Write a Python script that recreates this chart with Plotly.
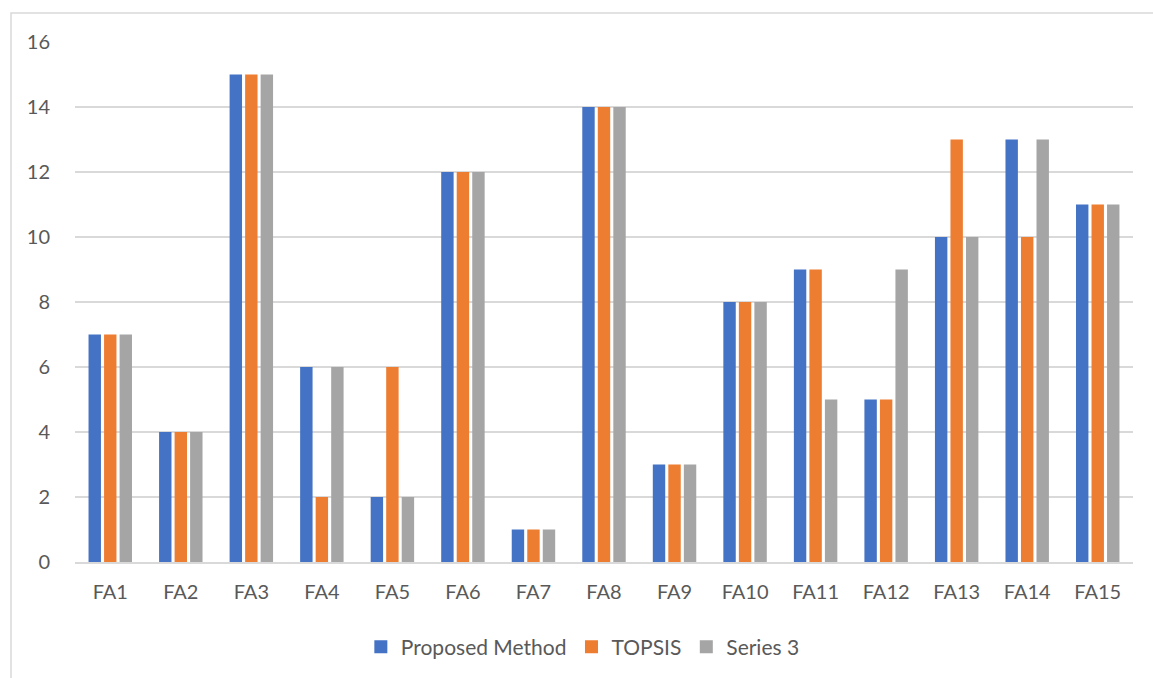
import plotly.graph_objects as go

categories = ["FA1", "FA2", "FA3", "FA4", "FA5", "FA6", "FA7", "FA8", "FA9", "FA10",
              "FA11", "FA12", "FA13", "FA14", "FA15"]
proposed = [7, 4, 15, 6, 2, 12, 1, 14, 3, 8, 9, 5, 10, 13, 11]
topsis = [7, 4, 15, 2, 6, 12, 1, 14, 3, 8, 9, 5, 13, 10, 11]
series3 = [7, 4, 15, 6, 2, 12, 1, 14, 3, 8, 5, 9, 10, 13, 11]
y_ticks = [0, 2, 4, 6, 8, 10, 12, 14, 16]

series = [
    ("Proposed Method", proposed, "#4472C4"),
    ("TOPSIS", topsis, "#ED7D31"),
    ("Series 3", series3, "#A5A5A5"),
]

fig = go.Figure()
for name, vals, color in series:
    fig.add_trace(go.Bar(
        x=categories, y=vals, name=name, legendgroup=name, showlegend=False,
        marker=dict(color=color, line=dict(color="white", width=0)),
    ))
# legend entries with larger square swatches
for name, vals, color in series:
    fig.add_trace(go.Scatter(
        x=[None], y=[None], mode="markers", name=name, legendgroup=name,
        marker=dict(symbol="square", size=13, color=color),
    ))

W, H = 1153, 678
L, R, T, B = 75, 20, 42, 116
pw, ph = W - L - R, H - T - B

font_family = "Lato, 'Open Sans', sans-serif"
text_color = "#595959"

fig.update_layout(
    width=W, height=H,
    margin=dict(l=L, r=R, t=T, b=B, autoexpand=False),
    paper_bgcolor="white", plot_bgcolor="white",
    barmode="group", bargap=0.34, bargroupgap=0.2,
    font=dict(family=font_family, size=20, color=text_color),
    showlegend=True,
    legend=dict(orientation="h", x=0.48, xanchor="center", y=(-(647 - 562) / ph),
                yanchor="middle", font=dict(size=21, color=text_color),
                itemwidth=30, traceorder="normal"),
    xaxis=dict(showgrid=False, showline=True, linecolor="#D9D9D9", linewidth=1.5,
               ticks="outside", ticklen=11, tickcolor="rgba(0,0,0,0)",
               tickfont=dict(size=20, color=text_color)),
    yaxis=dict(range=[0, 16], tickvals=y_ticks, showgrid=True, gridcolor="#D9D9D9",
               gridwidth=1.5, zeroline=False, showline=False,
               ticks="outside", ticklen=20, tickcolor="rgba(0,0,0,0)",
               tickfont=dict(size=20, color=text_color)),
    shapes=[dict(type="rect", xref="paper", yref="paper",
                 x0=(11 - L) / pw, x1=(W + 20 - L) / pw,
                 y0=-(H + 20 - T - ph) / ph, y1=(H - B - 13) / ph,
                 line=dict(color="#D9D9D9", width=1.5), fillcolor="rgba(0,0,0,0)",
                 layer="below")],
)

fig.write_html("out.html", config={"displayModeBar": False},
               post_script="document.body.style.margin='0';document.body.style.padding='0';")
